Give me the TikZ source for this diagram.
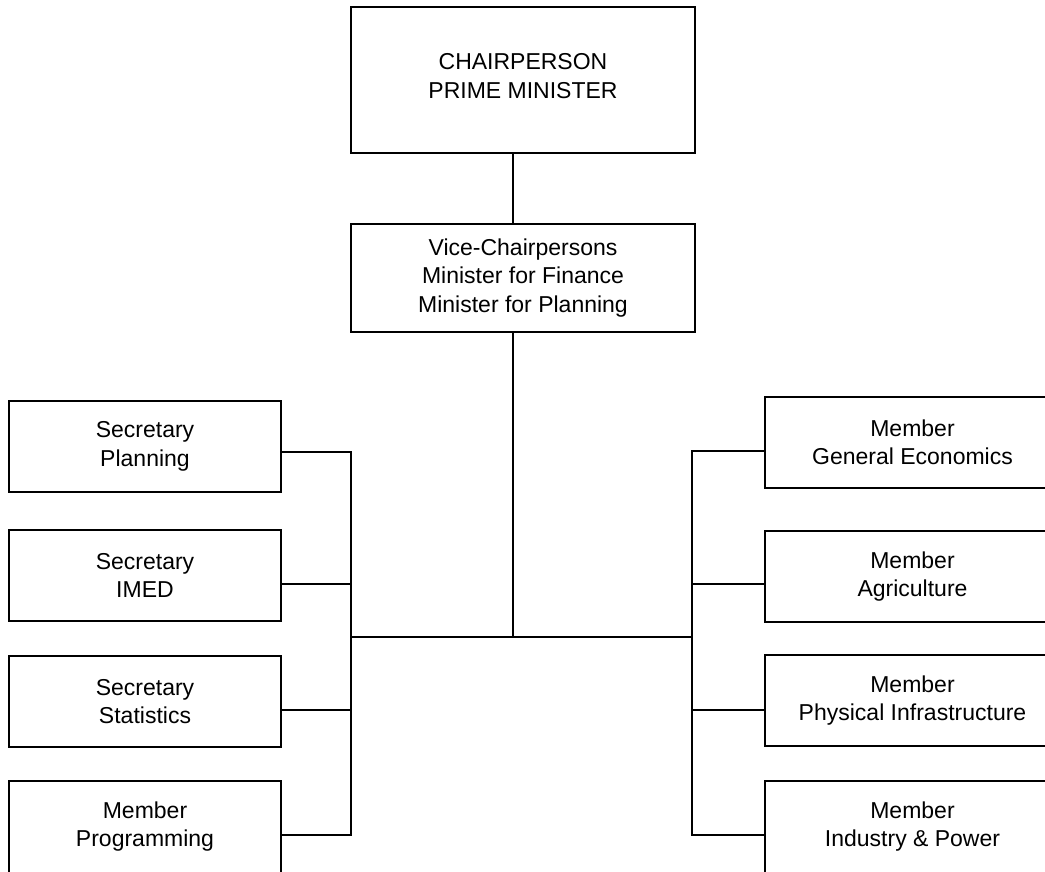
\documentclass[tikz,border=0pt]{standalone}
\usepackage{fontspec}
\setmainfont{Liberation Sans}
\begin{document}
\begin{tikzpicture}[x=1pt,y=-1pt,
  box/.style={draw, line width=1.8pt, align=center, inner sep=0pt, outer sep=0pt,
    anchor=north west, font=\fontsize{23}{28.5}\selectfont},
  leftbox/.style={box, minimum width=272pt, minimum height=91pt},
  rightbox/.style={box, minimum width=295pt, minimum height=91pt},
  link/.style={line width=1.8pt, line join=miter}]
\useasboundingbox (0,0) rectangle (1045,871);
\fill[white] (0,0) rectangle (1045,871);
\clip (0,0) rectangle (1045,871);

% top of the hierarchy
\node[box, minimum width=344pt, minimum height=146pt, text depth=8pt] (chair) at (351,7)
  {CHAIRPERSON\\PRIME MINISTER};
\node[box, minimum width=344pt, minimum height=108pt] (vice) at (351,224)
  {Vice-Chairpersons\\Minister for Finance\\Minister for Planning};

% secretaries and programming member
\node[leftbox] (p1) at (9,401) {Secretary\\Planning};
\node[leftbox] (p2) at (9,530) {Secretary\\IMED};
\node[leftbox] (p3) at (9,656) {Secretary\\Statistics};
\node[leftbox, minimum height=99pt, text depth=13pt] (p4) at (9,781) {Member\\Programming};

% members
\node[rightbox] (r1) at (765,397) {Member\\General Economics};
\node[rightbox] (r2) at (765,531) {Member\\Agriculture};
\node[rightbox] (r3) at (765,655) {Member\\Physical Infrastructure};
\node[rightbox, minimum height=99pt, text depth=13pt] (r4) at (765,781) {Member\\Industry \& Power};

% connector junctions
\coordinate (hub) at (513,637);
\coordinate (sL1) at (351,452);
\coordinate (sL2) at (351,584);
\coordinate (sL3) at (351,710);
\coordinate (sL4) at (351,835);
\coordinate (sR1) at (692,451);
\coordinate (sR2) at (692,584);
\coordinate (sR3) at (692,710);
\coordinate (sR4) at (692,835);

% spine
\draw[link] (chair.south -| hub) -- (vice.north -| hub);
\draw[link] (vice.south -| hub) -- (hub);
\draw[link] (sL1 |- hub) -- (sR1 |- hub);

% left bus
\draw[link] (p1.east |- sL1) -- (sL1) -- (sL4) -- (p4.east |- sL4);
\draw[link] (p2.east |- sL2) -- (sL2);
\draw[link] (p3.east |- sL3) -- (sL3);

% right bus
\draw[link] (r1.west |- sR1) -- (sR1) -- (sR4) -- (r4.west |- sR4);
\draw[link] (r2.west |- sR2) -- (sR2);
\draw[link] (r3.west |- sR3) -- (sR3);
\end{tikzpicture}
\end{document}
